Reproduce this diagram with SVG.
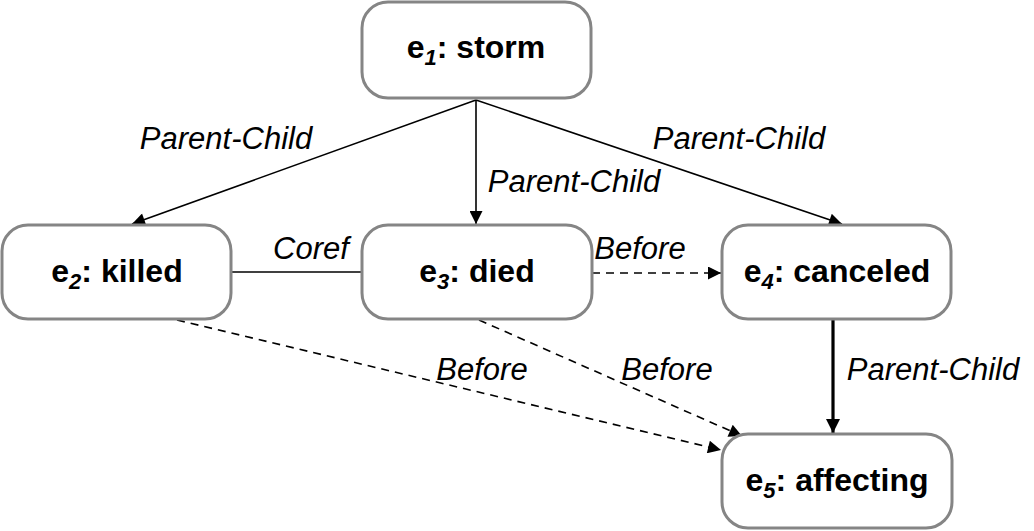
<svg xmlns="http://www.w3.org/2000/svg" width="1034" height="531" viewBox="0 0 1034 531">
<defs>
<style>
.node rect{fill:#fff;stroke:#858585;stroke-width:3}
.node text{font-family:"Liberation Sans",Arial,sans-serif;font-weight:bold;font-size:32px;fill:#000;text-anchor:middle}
.sub{font-style:italic;font-size:22px}
.e{stroke:#000;stroke-width:1.6;fill:none}
.d{stroke-dasharray:8 6}
.lbl{font-family:"Liberation Sans",Arial,sans-serif;font-style:italic;font-size:31px;fill:#000;text-anchor:middle}
</style>
<marker id="ah" viewBox="0 0 10 10" refX="10" refY="5" markerWidth="18" markerHeight="13" markerUnits="userSpaceOnUse" orient="auto"><path d="M0,0 L10,5 L0,10 Z" fill="#000"/></marker>
<marker id="ahb" viewBox="0 0 10 10" refX="10" refY="5" markerWidth="20" markerHeight="14" markerUnits="userSpaceOnUse" orient="auto"><path d="M0,0 L10,5 L0,10 Z" fill="#000"/></marker>
</defs>
<rect width="1034" height="531" fill="#fff"/>
<g id="connectors">
<line class="e" x1="476" y1="100" x2="132" y2="224" marker-end="url(#ah)"/>
<line class="e" x1="476" y1="100" x2="476" y2="224" marker-end="url(#ah)"/>
<line class="e" x1="476" y1="100" x2="842" y2="224" marker-end="url(#ah)"/>
<line class="e" x1="232" y1="272" x2="362" y2="272"/>
<line class="e d" x1="592" y1="273" x2="721" y2="273" marker-end="url(#ah)"/>
<line class="e" style="stroke-width:3.2" x1="833" y1="320" x2="833" y2="433" marker-end="url(#ahb)"/>
<line class="e d" x1="177" y1="320" x2="721" y2="450" marker-end="url(#ah)"/>
<line class="e d" x1="479" y1="320" x2="742" y2="436" marker-end="url(#ah)"/>
<text class="lbl" x="226" y="149">Parent-Child</text>
<text class="lbl" x="574" y="192">Parent-Child</text>
<text class="lbl" x="739" y="149">Parent-Child</text>
<text class="lbl" x="311" y="259">Coref</text>
<text class="lbl" x="640" y="259">Before</text>
<text class="lbl" x="933" y="380">Parent-Child</text>
<text class="lbl" x="482" y="380">Before</text>
<text class="lbl" x="667" y="380">Before</text>
</g>
<g id="e1" class="node"><rect x="362" y="2" width="229" height="96" rx="26"/><text x="476" y="58">e<tspan class="sub" dy="7">1</tspan><tspan dy="-7">: storm</tspan></text></g>
<g id="e2" class="node"><rect x="2" y="225" width="229" height="94" rx="26"/><text x="117" y="282">e<tspan class="sub" dy="7">2</tspan><tspan dy="-7">: killed</tspan></text></g>
<g id="e3" class="node"><rect x="362" y="225" width="230" height="94" rx="26"/><text x="477" y="282">e<tspan class="sub" dy="7">3</tspan><tspan dy="-7">: died</tspan></text></g>
<g id="e4" class="node"><rect x="722" y="225" width="229" height="94" rx="26"/><text x="837" y="282">e<tspan class="sub" dy="7">4</tspan><tspan dy="-7">: canceled</tspan></text></g>
<g id="e5" class="node"><rect x="722" y="434" width="230" height="94" rx="26"/><text x="837" y="491">e<tspan class="sub" dy="7">5</tspan><tspan dy="-7">: affecting</tspan></text></g>
</svg>
